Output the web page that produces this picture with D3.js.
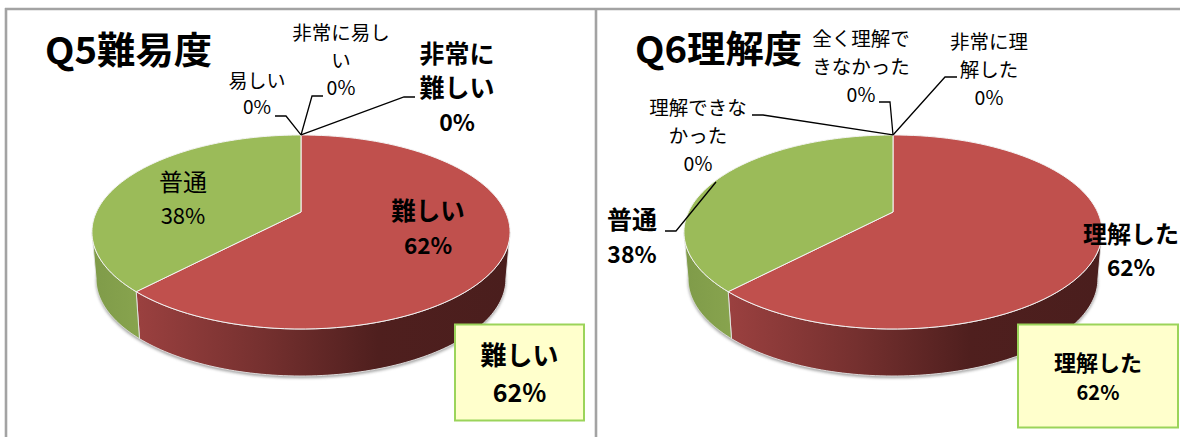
<!DOCTYPE html>
<html>
<head>
<meta charset="utf-8">
<script src="https://cdnjs.cloudflare.com/ajax/libs/d3/7.8.5/d3.min.js"></script>
<style>
html, body { margin: 0; padding: 0; background: #fff; overflow: hidden; }
text { font-family: "Noto Sans CJK JP", sans-serif; fill: #000; text-anchor: middle; }
</style>
</head>
<body>
<div id="chart"></div>
<script>
// data
const q5Categories = ["非常に難しい", "難しい", "普通", "易しい", "非常に易しい"];
const q5Values = [0, 62, 38, 0, 0];
const q6Categories = ["理解した", "普通", "理解できなかった", "全く理解できなかった", "非常に理解した"];
const q6Values = [62, 38, 0, 0, 0];

const sliceColors = { 62: "#c0504d", 38: "#9bbb59" };

const svg = d3.select("#chart").append("svg")
    .attr("width", 1180)
    .attr("height", 437);

const defs = svg.append("defs");
defs.append("filter").attr("id", "soft")
    .attr("x", "-10%").attr("y", "-10%").attr("width", "120%").attr("height", "120%")
    .append("feGaussianBlur").attr("stdDeviation", 1.8);

function wallGradient(id, x0, x1, stops) {
    const g = defs.append("linearGradient").attr("id", id)
        .attr("gradientUnits", "userSpaceOnUse")
        .attr("x1", x0).attr("x2", x1).attr("y1", 0).attr("y2", 0);
    stops.forEach(s => g.append("stop").attr("offset", s[0]).attr("stop-color", s[1]));
}

// panel frame
const frame = svg.append("g").attr("stroke", "#a3a3a3").attr("stroke-width", 2.6).attr("fill", "none");
frame.append("line").attr("x1", 5).attr("x2", 1180).attr("y1", 9).attr("y2", 9);
frame.append("line").attr("x1", 6).attr("x2", 6).attr("y1", 8).attr("y2", 437);
frame.append("line").attr("x1", 596).attr("x2", 596).attr("y1", 8).attr("y2", 437);

// pie seen in perspective, apex is angle 0
const persp = -0.206, scaleV = 92.9, scaleU = 204.6, depth = 47, bottomShrink = 0.98;
function project(cx, cy, a) {
    const u = Math.sin(a), v = -Math.cos(a), w = 1 + persp * v;
    return [cx + scaleU * u / w, cy + scaleV * v / w];
}

const line = d3.line();
const frontStart = Math.acos(persp), frontEnd = 2 * Math.PI - frontStart;

function drawPie(id, values, cx, cy) {
    const pie = d3.pie().sort(null).value(d => d)(values);
    const g = svg.append("g");
    const arcPts = (a0, a1) => d3.range(0, 97).map(i => project(cx, cy, a0 + (a1 - a0) * i / 96));
    const lower = p => [cx + (p[0] - cx) * bottomShrink, p[1] + depth];

    const rim = arcPts(0, 2 * Math.PI);
    g.append("path")
        .attr("d", line(rim.map(p => { const q = lower(p); return [q[0], q[1] + 2]; })) + "Z")
        .attr("fill", "#777").attr("opacity", 0.7).attr("filter", "url(#soft)");

    const x0 = project(cx, cy, frontEnd)[0], x1 = project(cx, cy, frontStart)[0];
    wallGradient(id + "-red", x0 + 40, x1, [[0, "#9c4140"], [0.35, "#75302f"], [0.65, "#4f1f1e"], [1, "#4a1e1d"]]);
    wallGradient(id + "-green", x0, x0 + 50, [[0, "#7f9b49"], [1, "#88a44e"]]);

    const visible = pie.filter(d => d.value > 0);

    // side walls
    visible.forEach(d => {
        const a0 = Math.max(d.startAngle, frontStart), a1 = Math.min(d.endAngle, frontEnd);
        const topEdge = arcPts(a0, a1);
        const bottomEdge = topEdge.map(lower).reverse();
        g.append("path")
            .attr("d", line(topEdge.concat(bottomEdge)) + "Z")
            .attr("fill", `url(#${id}-${d.value > 50 ? "red" : "green"})`)
            .attr("stroke", "#e6e6e6").attr("stroke-width", 0.9);
    });

    // top face
    visible.forEach(d => {
        g.append("path")
            .attr("d", line([[cx, cy]].concat(arcPts(d.startAngle, d.endAngle))) + "Z")
            .attr("fill", sliceColors[d.value])
            .attr("stroke", "#f4f4f4").attr("stroke-width", 1);
    });
}

drawPie("q5", q5Values, 301, 212);
drawPie("q6", q6Values, 893, 212);

// leader lines
function leader(pts) {
    svg.append("path").attr("d", line(pts))
        .attr("fill", "none").attr("stroke", "#000").attr("stroke-width", 1.3);
}
const apex5 = project(301, 212, 0), apex6 = project(893, 212, 0);
leader([[275, 116], [286, 116], apex5]);
leader([[323, 96], [312, 96], apex5]);
leader([[415, 97], [404, 97], apex5]);
leader([[957, 77], [945, 77], apex6]);
leader([[879, 102], [890, 102], apex6]);
leader([[752, 115], [763, 115], apex6]);
leader([[665, 231], [676, 231], [716, 182]]);

// labels
function label(lines, x, ys, size, bold) {
    lines.forEach((t, i) => {
        svg.append("text").attr("x", x).attr("y", ys[i])
            .attr("font-size", size[i] || size[0])
            .attr("font-weight", bold ? 700 : 400)
            .text(t);
    });
}
const pct = v => v + "%";

function title(t, x0, x1, y) {
    svg.append("text").attr("x", x0).attr("y", y)
        .attr("font-size", 37).attr("font-weight", 700)
        .style("text-anchor", "start")
        .attr("textLength", x1 - x0).attr("lengthAdjust", "spacingAndGlyphs")
        .text(t);
}
title("Q5難易度", 45, 212, 64);
title("Q6理解度", 635, 802, 63);

// Q5
label(["非常に易し", "い", pct(q5Values[4])], 341, [40, 68, 95], [19.5]);
label(["易しい", pct(q5Values[3])], 257, [88, 114], [19]);
label(["非常に", "難しい", pct(q5Values[0])], 457, [63, 97, 131], [25, 25, 23], true);
label(["普通", pct(q5Values[2])], 183, [191, 224], [24, 22]);
label(["難しい", pct(q5Values[1])], 428, [220, 254], [24.5, 22.5], true);

// Q6
label(["全く理解で", "きなかった", pct(q6Values[3])], 861, [46, 74, 102], [19.5]);
label(["非常に理", "解した", pct(q6Values[4])], 989, [49, 77, 105], [19.5]);
label(["理解できな", "かった", pct(q6Values[2])], 698, [115, 143, 171], [19.5]);
label(["普通", pct(q6Values[1])], 632, [229, 263], [25, 23], true);
label(["理解した", pct(q6Values[0])], 1131, [243, 276], [24, 22.5], true);

// callout boxes
function callout(x, y, w, h, lines, ys, size) {
    svg.append("rect").attr("x", x).attr("y", y).attr("width", w).attr("height", h)
        .attr("fill", "#ffffcc").attr("stroke", "#9bd45a").attr("stroke-width", 2);
    label(lines, x + w / 2, ys, size, true);
}
callout(455, 324.5, 129, 96, [q5Categories[1], pct(q5Values[1])], [365, 402], [26, 25]);
callout(1018, 324.5, 160, 103, [q6Categories[0], pct(q6Values[0])], [371, 400], [22, 20]);
</script>
</body>
</html>
